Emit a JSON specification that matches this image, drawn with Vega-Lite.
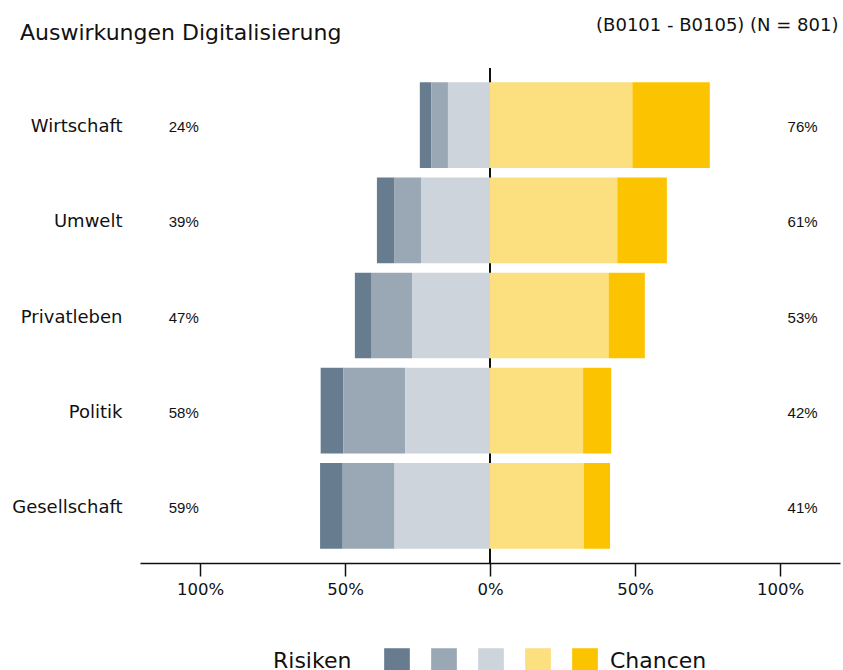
{
  "$schema": "https://vega.github.io/schema/vega-lite/v6.json",
  "width": 700,
  "height": 495,
  "autosize": "none",
  "padding": {"left": 140, "top": 68, "right": 3, "bottom": 107},
  "background": "white",
  "title": {
    "text": "Auswirkungen Digitalisierung",
    "anchor": "start",
    "frame": "group",
    "dx": -120,
    "dy": 33,
    "font": "DejaVu Sans",
    "fontSize": 22,
    "fontWeight": "normal",
    "color": "#111111"
  },
  "config": {
    "view": {"stroke": null},
    "font": "DejaVu Sans"
  },
  "datasets": {
    "bars": [
      {"cat": "Wirtschaft", "level": "1", "value": -0.040},
      {"cat": "Wirtschaft", "level": "2", "value": -0.057},
      {"cat": "Wirtschaft", "level": "3", "value": -0.145},
      {"cat": "Wirtschaft", "level": "4", "value": 0.491},
      {"cat": "Wirtschaft", "level": "5", "value": 0.267},
      {"cat": "Umwelt", "level": "1", "value": -0.061},
      {"cat": "Umwelt", "level": "2", "value": -0.091},
      {"cat": "Umwelt", "level": "3", "value": -0.238},
      {"cat": "Umwelt", "level": "4", "value": 0.439},
      {"cat": "Umwelt", "level": "5", "value": 0.171},
      {"cat": "Privatleben", "level": "1", "value": -0.058},
      {"cat": "Privatleben", "level": "2", "value": -0.139},
      {"cat": "Privatleben", "level": "3", "value": -0.269},
      {"cat": "Privatleben", "level": "4", "value": 0.409},
      {"cat": "Privatleben", "level": "5", "value": 0.125},
      {"cat": "Politik", "level": "1", "value": -0.078},
      {"cat": "Politik", "level": "2", "value": -0.214},
      {"cat": "Politik", "level": "3", "value": -0.292},
      {"cat": "Politik", "level": "4", "value": 0.321},
      {"cat": "Politik", "level": "5", "value": 0.097},
      {"cat": "Gesellschaft", "level": "1", "value": -0.078},
      {"cat": "Gesellschaft", "level": "2", "value": -0.179},
      {"cat": "Gesellschaft", "level": "3", "value": -0.329},
      {"cat": "Gesellschaft", "level": "4", "value": 0.324},
      {"cat": "Gesellschaft", "level": "5", "value": 0.090}
    ],
    "totals": [
      {"cat": "Wirtschaft", "risk": 0.24, "chance": 0.76},
      {"cat": "Umwelt", "risk": 0.39, "chance": 0.61},
      {"cat": "Privatleben", "risk": 0.47, "chance": 0.53},
      {"cat": "Politik", "risk": 0.58, "chance": 0.42},
      {"cat": "Gesellschaft", "risk": 0.59, "chance": 0.41}
    ]
  },
  "resolve": {"axis": {"x": "independent"}},
  "layer": [
    {
      "data": {"name": "totals"},
      "mark": {"type": "rule", "color": "#111111", "strokeWidth": 1.5},
      "encoding": {
        "x": {
          "datum": 0,
          "type": "quantitative",
          "scale": {"domain": [-1.207, 1.207], "nice": false, "zero": false},
          "axis": {
            "orient": "top",
            "domain": false,
            "ticks": false,
            "labels": false,
            "grid": false,
            "title": "(B0101 - B0105) (N = 801)",
            "titleAnchor": "end",
            "titleAlign": "right",
            "titleBaseline": "alphabetic",
            "titleX": 698,
            "titleY": -38,
            "titleFont": "DejaVu Sans",
            "titleFontSize": 18,
            "titleFontWeight": "normal",
            "titleColor": "#111111"
          }
        }
      }
    },
    {
      "data": {"name": "bars"},
      "transform": [
        {"calculate": "datum.value < 0 ? -toNumber(datum.level) : toNumber(datum.level)", "as": "sortkey"}
      ],
      "mark": {"type": "bar"},
      "encoding": {
        "y": {
          "field": "cat",
          "type": "nominal",
          "scale": {
            "domain": ["Wirtschaft", "Umwelt", "Privatleben", "Politik", "Gesellschaft"],
            "paddingInner": 0.1,
            "paddingOuter": 0.15
          },
          "axis": {
            "title": null,
            "domain": false,
            "ticks": false,
            "labelPadding": 18,
            "labelOffset": 2,
            "labelFont": "DejaVu Sans",
            "labelFontSize": 18,
            "labelColor": "#111111"
          }
        },
        "x": {
          "field": "value",
          "type": "quantitative",
          "stack": "zero",
          "scale": {"domain": [-1.207, 1.207], "nice": false, "zero": false},
          "axis": {
            "orient": "bottom",
            "title": null,
            "grid": false,
            "values": [-1, -0.5, 0, 0.5, 1],
            "labelExpr": "format(abs(datum.value), '.0%')",
            "domainColor": "#111111",
            "domainWidth": 1.5,
            "tickColor": "#111111",
            "tickWidth": 1.5,
            "tickSize": 13,
            "labelPadding": 5,
            "labelFont": "DejaVu Sans",
            "labelFontSize": 16.5,
            "labelColor": "#111111"
          }
        },
        "order": {"field": "sortkey", "type": "quantitative", "sort": "ascending"},
        "color": {
          "field": "level",
          "type": "nominal",
          "scale": {
            "domain": ["1", "2", "3", "4", "5"],
            "range": ["#687c90", "#9aa8b5", "#cdd4dc", "#fcdf7f", "#fcc400"]
          },
          "legend": {
            "orient": "none",
            "legendX": 133,
            "legendY": 580,
            "direction": "horizontal",
            "title": "Risiken",
            "titleOrient": "left",
            "titlePadding": 32,
            "titleFont": "DejaVu Sans",
            "titleFontSize": 22,
            "titleFontWeight": "normal",
            "titleColor": "#111111",
            "labelExpr": "datum.value == '5' ? 'Chancen' : ''",
            "labelFont": "DejaVu Sans",
            "labelFontSize": 22,
            "labelColor": "#111111",
            "labelOffset": 12,
            "symbolType": "square",
            "symbolSize": 660,
            "symbolStrokeWidth": 0,
            "symbolOpacity": 1,
            "columnPadding": 9
          }
        }
      }
    },
    {
      "data": {"name": "totals"},
      "mark": {"type": "text", "font": "Liberation Sans", "fontSize": 15, "color": "#111111", "align": "center", "baseline": "middle", "dy": 2},
      "encoding": {
        "y": {"field": "cat", "type": "nominal"},
        "x": {"datum": -1.056, "type": "quantitative", "axis": null},
        "text": {"field": "risk", "type": "quantitative", "format": ".0%"}
      }
    },
    {
      "data": {"name": "totals"},
      "mark": {"type": "text", "font": "Liberation Sans", "fontSize": 15, "color": "#111111", "align": "center", "baseline": "middle", "dy": 2},
      "encoding": {
        "y": {"field": "cat", "type": "nominal"},
        "x": {"datum": 1.078, "type": "quantitative", "axis": null},
        "text": {"field": "chance", "type": "quantitative", "format": ".0%"}
      }
    }
  ]
}
